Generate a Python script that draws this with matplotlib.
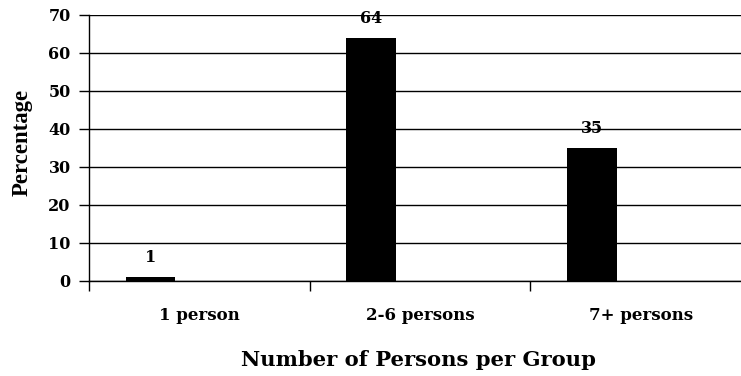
import matplotlib
matplotlib.use("Agg")
import matplotlib.pyplot as plt
import numpy as np

categories = ["1 person", "2-6 persons", "7+ persons"]
percentages = [1, 64, 35]
y_ticks = [0, 10, 20, 30, 40, 50, 60, 70]
x_title = "Number of Persons per Group"
y_title = "Percentage"

WIDE = ["DejaVu Serif"]
NARROW = ["Liberation Serif", "DejaVu Serif"]
plt.rcParams["font.family"] = WIDE
plt.rcParams["font.weight"] = "bold"

W, H, DPI = 741, 376, 100
PT = 72.0 / DPI  # points per pixel
fig = plt.figure(figsize=(W / DPI, H / DPI), dpi=DPI)

left, right, top, bottom = 89, 751, 15, 281
ax = fig.add_axes([left / W, (H - bottom) / H, (right - left) / W, (bottom - top) / H])

x = np.arange(len(categories))
bar_offset = -0.221
bar_width = 0.2245
ax.bar(x + bar_offset, percentages, width=bar_width, color="black", zorder=3)

ax.set_xlim(-0.5, 2.5)
ax.set_ylim(0, 70)
ax.set_yticks(y_ticks)
ax.set_yticklabels([])
ax.yaxis.grid(True, color="black", linewidth=1.0, zorder=0)
ax.set_axisbelow(True)

ax.set_xticks(x)
ax.set_xticklabels([])
ax.tick_params(axis="x", which="major", length=0)
ax.set_xticks([-0.5, 0.5, 1.5], minor=True)
ax.tick_params(axis="x", which="minor", length=7, width=1, color="black")
ax.tick_params(axis="y", length=7, width=1, color="black")

for s in ["top", "right"]:
    ax.spines[s].set_visible(False)
for s in ["left", "bottom"]:
    ax.spines[s].set_linewidth(1.0)
    ax.spines[s].set_color("black")

SMALL = 11.5
CAT = 12.0

# y tick labels: right aligned, digits centred on each gridline
for t in y_ticks:
    ax.annotate(str(t), xy=(0, t), xycoords=("axes fraction", "data"),
                xytext=(-18.3 * PT, -5.9 * PT), textcoords="offset points",
                ha="right", va="baseline", fontsize=SMALL, fontweight="bold")

# category labels under each slot
for xi, name in zip(x, categories):
    ax.annotate(name, xy=(xi, 0), xycoords=("data", "axes fraction"),
                xytext=(0, -38.5 * PT), textcoords="offset points",
                ha="center", va="baseline", fontsize=CAT, fontweight="bold")

# value labels above bars
for xi, v in zip(x, percentages):
    ax.annotate(str(v), xy=(xi + bar_offset, v), xycoords="data",
                xytext=(0, 15 * PT), textcoords="offset points",
                ha="center", va="baseline", fontsize=SMALL, fontweight="bold",
                annotation_clip=False)

# axis titles
fig.text(418.5 / W, 10 / H, x_title, ha="center", va="baseline",
         fontsize=15.2, fontweight="bold")
fig.text(22.4 / W, 1 - 142.9 / H, y_title, ha="center", va="center", rotation=90,
         fontsize=16.4, fontweight="bold", family=NARROW)

fig.savefig("out.png", dpi=DPI)
